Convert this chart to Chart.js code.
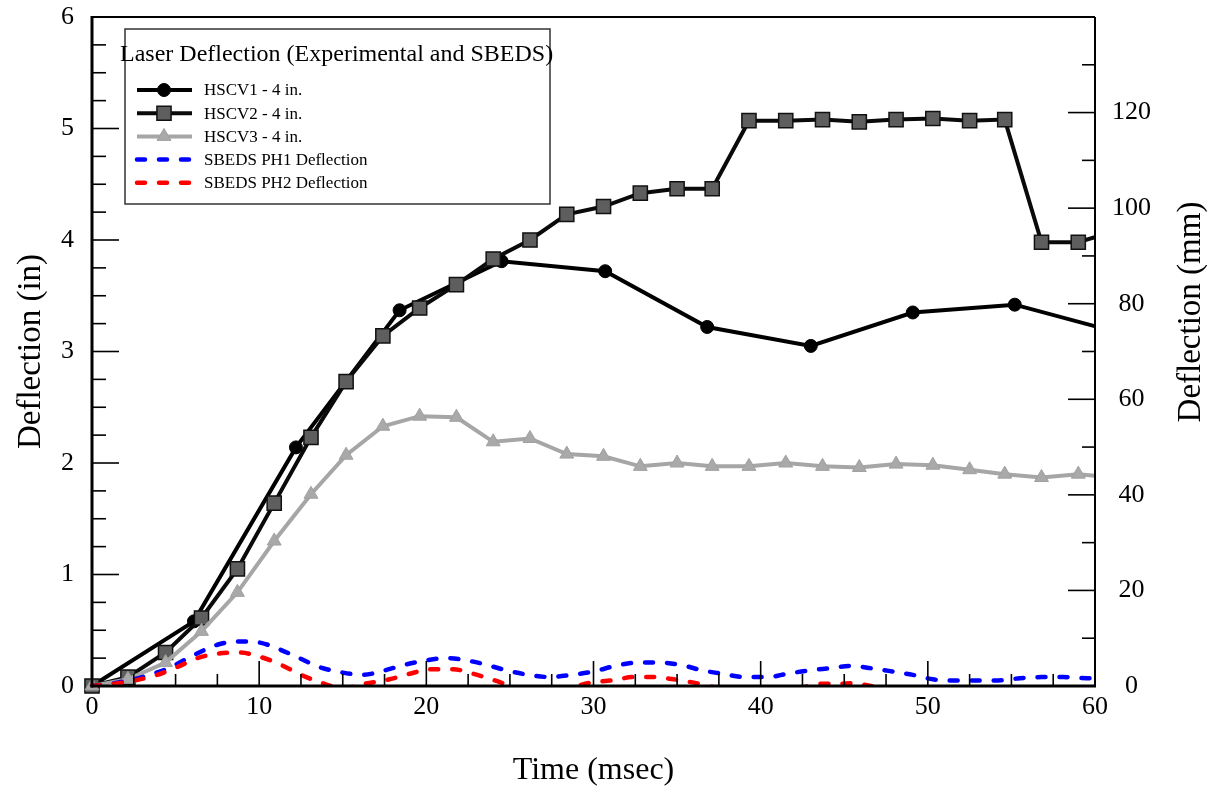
<!DOCTYPE html>
<html>
<head>
<meta charset="utf-8">
<title>Laser Deflection (Experimental and SBEDS)</title>
<script src="https://cdn.jsdelivr.net/npm/chart.js@4.4.0/dist/chart.umd.min.js"></script>
<style>
  html, body { margin: 0; padding: 0; background: #fff; }
  #wrap { width: 1220px; height: 788px; position: relative; }
</style>
</head>
<body>
<div id="wrap"><canvas id="deflectionChart"></canvas></div>
<script>
// HSCV1 - 4 in. laser deflection (in) vs time (msec)
const hscv1Time = [0, 6.1, 12.2, 18.4, 24.5, 30.7, 36.8, 43.0, 49.1, 55.2, 61.4];
const hscv1Defl = [0, 0.58, 2.14, 3.37, 3.81, 3.72, 3.22, 3.05, 3.35, 3.42, 3.17];

// HSCV2 and HSCV3 were sampled at the same times
const hscvTime = [0, 2.15, 4.4, 6.55, 8.7, 10.9, 13.1, 15.2, 17.4, 19.6, 21.8, 24.0, 26.2, 28.4,
                  30.6, 32.8, 35.0, 37.1, 39.3, 41.5, 43.7, 45.9, 48.1, 50.3, 52.5, 54.6, 56.8, 59.0, 61.2];
const hscv2Defl = [0, 0.08, 0.30, 0.61, 1.05, 1.64, 2.23, 2.73, 3.14, 3.39, 3.60, 3.83, 4.00, 4.23,
                   4.30, 4.42, 4.46, 4.46, 5.07, 5.07, 5.08, 5.06, 5.08, 5.09, 5.07, 5.08, 3.98, 3.98, 4.08];
const hscv3Defl = [0, 0.06, 0.21, 0.49, 0.84, 1.30, 1.72, 2.07, 2.33, 2.42, 2.41, 2.19, 2.22, 2.08,
                   2.06, 1.97, 2.00, 1.97, 1.97, 2.00, 1.97, 1.96, 1.99, 1.98, 1.94, 1.90, 1.87, 1.90, 1.87];

// SBEDS predictions
const ph1Time = [0, 1.5, 3, 4.5, 6, 7.5, 8.8, 10, 11.2, 12.4, 13.6, 15, 16.2, 17.5, 18.7, 20, 21.2, 22.4,
                 23.6, 24.8, 26.1, 27.4, 28.7, 30, 31.3, 32.6, 33.9, 35.2, 36.5, 37.7, 39, 40.4, 41.6,
                 42.9, 44.2, 45.4, 46.6, 47.9, 49.1, 50.3, 51.6, 52.9, 54.2, 55.5, 56.8, 58.1, 59.5, 60];
const ph1Defl = [0, 0.03, 0.08, 0.155, 0.27, 0.37, 0.40, 0.39, 0.33, 0.25, 0.17, 0.12, 0.10, 0.14, 0.19,
                 0.23, 0.25, 0.23, 0.19, 0.14, 0.10, 0.08, 0.10, 0.13, 0.18, 0.21, 0.21, 0.19, 0.14, 0.11,
                 0.08, 0.08, 0.11, 0.14, 0.16, 0.18, 0.16, 0.13, 0.10, 0.06, 0.05, 0.05, 0.05, 0.07, 0.08,
                 0.08, 0.07, 0.07];
const ph2Time = [0, 1.3, 2.6, 3.9, 5.1, 6.3, 7.5, 8.8, 10.1, 11.3, 12.5, 13.7, 15, 16.3, 17.8, 19, 20.3,
                 21.6, 22.8, 24.1, 25.3, 27, 28.7, 29.8, 31.1, 32.4, 33.6, 34.8, 36, 37.5, 40, 42.5, 43.7,
                 44.6, 45.6, 46.6, 48.5, 52, 56, 60];
const ph2Defl = [0, 0.02, 0.05, 0.10, 0.17, 0.25, 0.29, 0.30, 0.26, 0.19, 0.10, 0.03, -0.02, 0.02, 0.06,
                 0.11, 0.15, 0.15, 0.11, 0.05, -0.01, -0.04, -0.01, 0.03, 0.05, 0.08, 0.08, 0.06, 0.03,
                 -0.02, -0.05, -0.01, 0.02, 0.02, 0.025, 0.0, -0.03, -0.05, -0.04, -0.03];

// axis tick labels
const timeTicks = [0, 10, 20, 30, 40, 50, 60];
const inchTicks = [0, 1, 2, 3, 4, 5, 6];
const mmTicks = [0, 20, 40, 60, 80, 100, 120];

const serif = "'Liberation Serif', 'Times New Roman', serif";
Chart.defaults.color = '#000';
Chart.defaults.font.family = serif;

const pairs = (xs, ys) => xs.map((x, i) => ({ x: x, y: ys[i] }));

// keep the plot box fixed: no extra room for overhanging tick labels
const noLabelPadding = s => {
  s.paddingTop = 0; s.paddingBottom = 0; s.paddingLeft = 0; s.paddingRight = 0;
};

// tick marks point into the plot, plus the frame around it
const innerTicks = {
  id: 'innerTicks',
  afterDraw(chart) {
    const { ctx, chartArea: a, scales } = chart;
    const mark = (x1, y1, x2, y2) => { ctx.beginPath(); ctx.moveTo(x1, y1); ctx.lineTo(x2, y2); ctx.stroke(); };
    ctx.save();
    ctx.strokeStyle = '#000';
    ctx.lineWidth = 1.6;
    for (let v = scales.x.min; v <= scales.x.max + 1e-6; v += 2.5) {
      const px = scales.x.getPixelForValue(v);
      const major = Math.abs(v % 10) < 1e-6;
      mark(px, a.bottom, px, a.bottom - (major ? 25 : 12));
    }
    for (let v = scales.y.min; v <= scales.y.max + 1e-6; v += 0.25) {
      const py = scales.y.getPixelForValue(v);
      const major = Math.abs(v % 1) < 1e-6;
      mark(a.left, py, a.left + (major ? 27 : 14), py);
    }
    for (let v = scales.y2.min; v <= scales.y2.max + 1e-6; v += 10) {
      const py = scales.y2.getPixelForValue(v);
      const major = Math.abs(v % 20) < 1e-6;
      mark(a.right, py, a.right - (major ? 27 : 13), py);
    }
    ctx.lineWidth = 2;
    mark(a.left, a.top, a.right, a.top);
    mark(a.right, a.top, a.right, a.bottom);
    ctx.lineWidth = 3;
    mark(a.left, a.top - 1, a.left, a.bottom + 1.5);
    mark(a.left - 1.5, a.bottom, a.right + 1, a.bottom);

    // right axis title reads bottom-to-top like the left one
    ctx.fillStyle = '#000';
    ctx.font = `33px ${serif}`;
    ctx.textAlign = 'center';
    ctx.textBaseline = 'middle';
    ctx.translate(1191, 312);
    ctx.rotate(-Math.PI / 2);
    ctx.fillText('Deflection (mm)', 0, 0);
    ctx.restore();
  }
};

// boxed legend in the upper left of the plot
const legendBox = {
  id: 'legendBox',
  afterDraw(chart, args, opts) {
    const ctx = chart.ctx;
    const a = chart.chartArea;
    const bx = a.left + 33, by = a.top + 12;
    ctx.save();
    ctx.fillStyle = '#fff';
    ctx.fillRect(bx, by, 425, 175);
    ctx.strokeStyle = '#333';
    ctx.lineWidth = 1.5;
    ctx.strokeRect(bx, by, 425, 175);
    ctx.fillStyle = '#000';
    ctx.textBaseline = 'middle';
    ctx.textAlign = 'left';
    ctx.font = `24px ${serif}`;
    ctx.fillText(opts.title, bx - 5, by + 26);
    ctx.font = `17px ${serif}`;
    chart.data.datasets.forEach((ds, i) => {
      const y = by + 61 + i * 23.2;
      ctx.beginPath();
      ctx.setLineDash(ds.borderDash || []);
      ctx.lineCap = ds.borderCapStyle || 'butt';
      ctx.strokeStyle = ds.borderColor;
      ctx.lineWidth = ds.borderWidth;
      ctx.moveTo(bx + 12, y);
      ctx.lineTo(bx + 67, y);
      ctx.stroke();
      ctx.setLineDash([]);
      ctx.lineCap = 'butt';
      if (ds.pointRadius > 0) {
        ctx.fillStyle = ds.pointBackgroundColor;
        ctx.strokeStyle = ds.pointBorderColor;
        ctx.lineWidth = ds.pointBorderWidth;
        Chart.helpers.drawPoint(ctx, { pointStyle: ds.pointStyle, radius: ds.pointRadius,
          borderWidth: ds.pointBorderWidth, rotation: 0 }, bx + 39, y);
      }
      ctx.fillStyle = '#000';
      ctx.fillText(ds.label, bx + 79, y + 1);
    });
    ctx.restore();
  }
};

const markerClip = { left: 12, top: 0, right: 0, bottom: 12 };

new Chart(document.getElementById('deflectionChart'), {
  type: 'line',
  data: {
    datasets: [
      {
        label: 'HSCV1 - 4 in.',
        data: pairs(hscv1Time, hscv1Defl),
        borderColor: '#000', borderWidth: 4,
        pointStyle: 'circle', pointRadius: 6.5,
        pointBackgroundColor: '#000', pointBorderColor: '#000', pointBorderWidth: 1,
        clip: markerClip, order: 5
      },
      {
        label: 'HSCV2 - 4 in.',
        data: pairs(hscvTime, hscv2Defl),
        borderColor: '#0a0a0a', borderWidth: 4,
        pointStyle: 'rect', pointRadius: 10,
        pointBackgroundColor: '#5e5e5e', pointBorderColor: '#111', pointBorderWidth: 1.5,
        clip: markerClip, order: 4
      },
      {
        label: 'HSCV3 - 4 in.',
        data: pairs(hscvTime, hscv3Defl),
        borderColor: '#a6a6a6', borderWidth: 4,
        pointStyle: 'triangle', pointRadius: 8,
        pointBackgroundColor: '#a9a9a9', pointBorderColor: '#a0a0a0', pointBorderWidth: 1,
        clip: markerClip, order: 3
      },
      {
        label: 'SBEDS PH1 Deflection',
        data: pairs(ph1Time, ph1Defl),
        borderColor: '#0000ff', borderWidth: 4.5,
        borderDash: [8, 14], borderCapStyle: 'round',
        pointRadius: 0, cubicInterpolationMode: 'monotone',
        clip: { left: 4, top: 0, right: 0, bottom: 0 }, order: 2
      },
      {
        label: 'SBEDS PH2 Deflection',
        data: pairs(ph2Time, ph2Defl),
        borderColor: '#ff0000', borderWidth: 4.5,
        borderDash: [8, 14], borderCapStyle: 'round',
        pointRadius: 0, cubicInterpolationMode: 'monotone',
        clip: { left: 4, top: 0, right: 0, bottom: 0 }, order: 1
      }
    ]
  },
  options: {
    responsive: true,
    maintainAspectRatio: false,
    animation: false,
    layout: { padding: { top: 17, left: 0, right: 0, bottom: 0 } },
    plugins: {
      legend: { display: false },
      tooltip: { enabled: false },
      legendBox: { title: 'Laser Deflection (Experimental and SBEDS)' }
    },
    scales: {
      x: {
        type: 'linear', min: 0, max: 60,
        afterBuildTicks: s => { s.ticks = timeTicks.map(v => ({ value: v })); },
        afterFit: s => { s.height = 102; noLabelPadding(s); },
        grid: { display: false, drawTicks: false },
        border: { display: false },
        ticks: { font: { size: 26, family: serif }, padding: 6, maxRotation: 0 },
        title: { display: true, text: 'Time (msec)', font: { size: 32, family: serif }, padding: { top: 0, bottom: -2 } }
      },
      y: {
        type: 'linear', position: 'left', min: 0, max: 6,
        afterBuildTicks: s => { s.ticks = inchTicks.map(v => ({ value: v })); },
        afterFit: s => { s.width = 92; noLabelPadding(s); },
        grid: { display: false, drawTicks: false },
        border: { display: false },
        ticks: { font: { size: 26, family: serif }, padding: 18 },
        title: { display: true, text: 'Deflection (in)', font: { size: 33, family: serif }, padding: { top: 12, bottom: 0 } }
      },
      y2: {
        type: 'linear', position: 'right', min: 0, max: 140,
        afterBuildTicks: s => { s.ticks = mmTicks.map(v => ({ value: v })); },
        afterFit: s => { s.width = 125; noLabelPadding(s); },
        grid: { display: false, drawTicks: false },
        border: { display: false },
        ticks: { font: { size: 26, family: serif }, padding: 17, crossAlign: 'center' }
      }
    }
  },
  plugins: [innerTicks, legendBox]
});
</script>
</body>
</html>
